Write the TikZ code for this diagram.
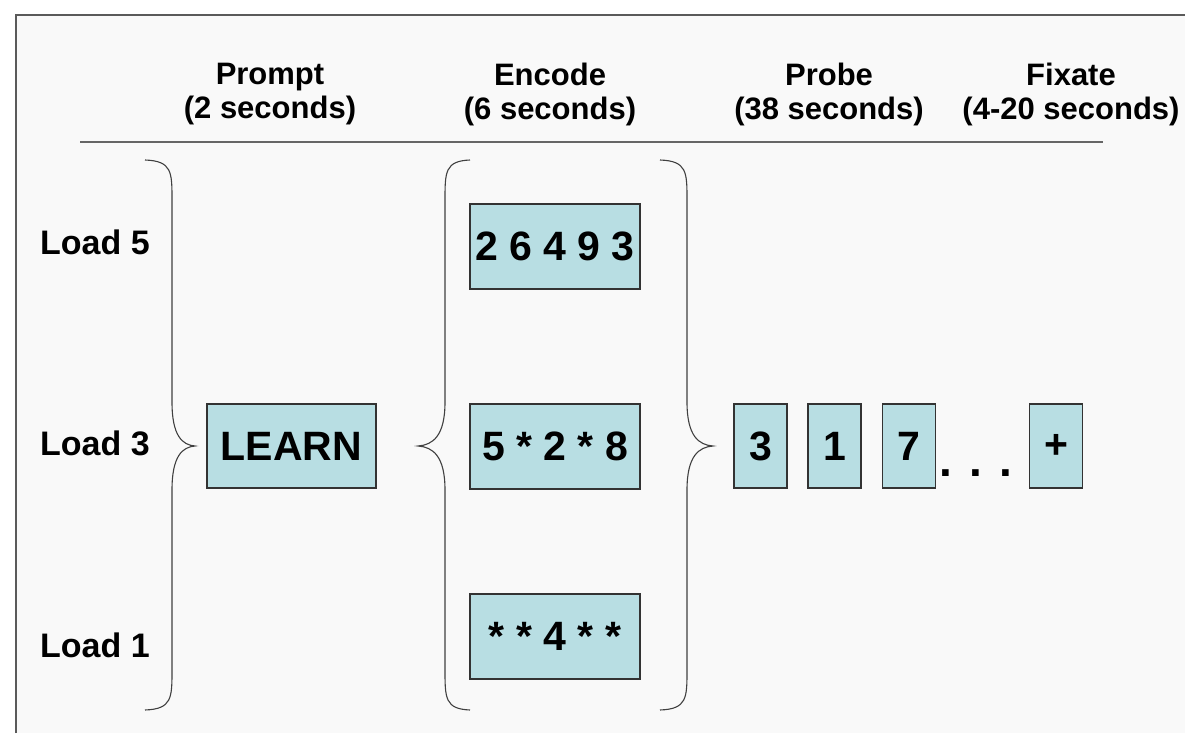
\documentclass[tikz,border=0pt]{standalone}
\usepackage{xcolor}
\usepackage{fontspec}
\setmainfont{Liberation Sans}
\usepackage{tikz}
\usetikzlibrary{positioning}
\definecolor{boxfill}{RGB}{184,222,227}
\definecolor{framegray}{RGB}{90,90,90}
\definecolor{bggray}{RGB}{249,249,249}
\tikzset{
  cell/.style={draw=black!80, line width=1.2pt, fill=boxfill, inner sep=0pt, font=\fontsize{41}{46}\selectfont\bfseries},
  wordbox/.style={cell, minimum width=170pt, minimum height=85pt},
  probebox/.style={cell, minimum width=53pt, minimum height=84pt},
  phase/.style={align=center, inner sep=0pt, font=\fontsize{31}{34}\selectfont\bfseries},
  loadlabel/.style={anchor=base west, inner sep=0pt, font=\fontsize{34}{38}\selectfont\bfseries},
  bracestyle/.style={draw=black!75, line width=1.1pt}
}

\begin{document}
\begin{tikzpicture}[x=1pt, y=-1pt]
					% page and frame
					\fill[white] (0,0) rectangle (1185,733);
					\fill[bggray] (16,15) rectangle (1185,733);
					\useasboundingbox (0,0) rectangle (1185,733);
					\draw[framegray, line width=2pt] (16,733) -- (16,15) -- (1185,15);
					
					% phase headers
					\node[phase] (prompt) at (270,94) {Prompt\\(2 seconds)};
					\node[phase] (encode) at (550,94) {Encode\\(6 seconds)};
					\node[phase] (probe) at (829,94) {Probe\\(38 seconds)};
					\node[phase] (fixate) at (1071,94) {Fixate\\(4-20 seconds)};
					\draw[black!60, line width=2.5pt] (80,142) -- (1103,142);
					
					% load labels
					\node[loadlabel] (load5) at (40,254) {Load 5};
					\node[loadlabel] (load3) at (40,455) {Load 3};
					\node[loadlabel] (load1) at (40,657) {Load 1};
					
					% braces
					\foreach \e/\s/\t in {145/172/195, 470/445/418, 660/687/713} {
						\draw[bracestyle] (\e,160) .. controls (\s,161) and (\s,172) .. (\s,200) -- (\s,402)
							.. controls (\s,436) and ({\s+0.45*(\t-\s)},445) .. (\t,446)
							.. controls ({\s+0.45*(\t-\s)},447) and (\s,456) .. (\s,490) -- (\s,670)
							.. controls (\s,698) and (\s,709) .. (\e,710);
					}
					
					% prompt and encode boxes
					\node[wordbox, minimum width=169pt, minimum height=84pt] (learn) at (291.5,446) {LEARN};
					\node[wordbox] (enc5) at (555,246.5) {2 6 4 9 3};
					\node[wordbox] (enc3) at (555,446.5) {5 * 2 * 8};
					\node[wordbox] (enc1) at (555,636.5) {* * 4 * *};
					
					% probe boxes
					\foreach \d/\x [count=\i] in {3/760.5, 1/834.5, 7/909, +/1056} {
						\node[probebox] (probe\i) at (\x,446) {\d};
					}
					\node[anchor=base, inner sep=0pt, font=\fontsize{46}{50}\selectfont\bfseries] (dots) at (976,476) {. . .};
\end{tikzpicture}
\end{document}
